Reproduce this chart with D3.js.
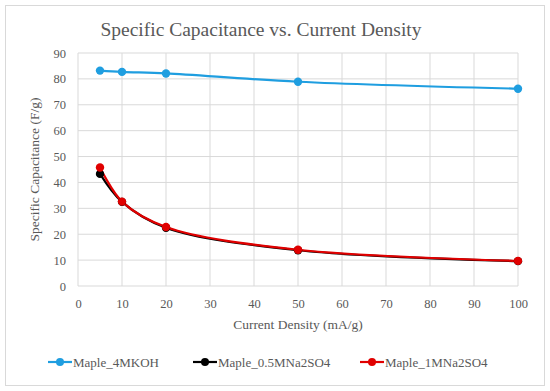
<!DOCTYPE html>
<html>
<head>
<meta charset="utf-8">
<script src="https://cdn.jsdelivr.net/npm/d3@7"></script>
<style>
  body { margin: 0; background: #fff; }
  svg text { font-family: "Liberation Serif", "DejaVu Serif", serif !important; fill: #595959; }
</style>
</head>
<body>
<div id="grafico"></div>
<script>
const densidades = [5, 10, 20, 50, 100];
const koh4M = [83.2, 82.7, 82.1, 78.9, 76.2];
const na2so4_05M = [43.3, 32.5, 22.5, 13.8, 9.6];
const na2so4_1M = [45.8, 32.6, 22.8, 14.0, 9.7];
const xTicks = [0, 10, 20, 30, 40, 50, 60, 70, 80, 90, 100];
const yTicks = [0, 10, 20, 30, 40, 50, 60, 70, 80, 90];

const series = [
  { nome: "Maple_4MKOH", valores: koh4M, cor: "#1f9ee0" },
  { nome: "Maple_0.5MNa2SO4", valores: na2so4_05M, cor: "#000000" },
  { nome: "Maple_1MNa2SO4", valores: na2so4_1M, cor: "#e00000" },
];

const W = 550, H = 391;
const margin = { top: 53, right: 32, bottom: 105, left: 78 };
const width = W - margin.left - margin.right;
const height = H - margin.top - margin.bottom;
const fonte = "'Liberation Serif', 'DejaVu Serif', serif";

const svg = d3.select("#grafico").append("svg")
  .attr("width", W).attr("height", H)
  .attr("font-family", fonte);

svg.append("rect")
  .attr("x", 5.5).attr("y", 5.5).attr("width", 539).attr("height", 380)
  .attr("fill", "#fff").attr("stroke", "#d9d9d9");

svg.append("text")
  .attr("x", 261).attr("y", 36)
  .attr("text-anchor", "middle")
  .style("font-size", "19.5px")
  .text("Specific Capacitance vs. Current Density");

const g = svg.append("g").attr("transform", `translate(${margin.left},${margin.top})`);

const x = d3.scaleLinear().domain([0, 100]).range([0, width]);
const y = d3.scaleLinear().domain([0, 90]).range([height, 0]);

// grade
g.append("g").selectAll("line").data(xTicks).join("line")
  .attr("x1", d => x(d)).attr("x2", d => x(d))
  .attr("y1", 0).attr("y2", height)
  .attr("stroke", "#d9d9d9");
g.append("g").selectAll("line").data(yTicks).join("line")
  .attr("x1", 0).attr("x2", width)
  .attr("y1", d => y(d)).attr("y2", d => y(d))
  .attr("stroke", "#d9d9d9");

const xAxis = g.append("g").attr("transform", `translate(0,${height})`)
  .call(d3.axisBottom(x).tickValues(xTicks).tickSize(0).tickPadding(13))
  .attr("font-family", fonte);
xAxis.select(".domain").remove();
xAxis.selectAll("text").style("font-size", "12.5px").attr("fill", "#595959");

const yAxis = g.append("g")
  .call(d3.axisLeft(y).tickValues(yTicks).tickSize(0).tickPadding(12))
  .attr("font-family", fonte);
yAxis.select(".domain").remove();
yAxis.selectAll("text").style("font-size", "12.5px").attr("fill", "#595959");

svg.append("text")
  .attr("x", margin.left + width / 2).attr("y", 329)
  .attr("text-anchor", "middle").style("font-size", "13.5px")
  .text("Current Density (mA/g)");

svg.append("text")
  .attr("transform", `translate(39,${margin.top + height / 2}) rotate(-90)`)
  .attr("text-anchor", "middle").style("font-size", "13.5px")
  .text("Specific Capacitance (F/g)");

const linha = d3.line()
  .x((d, i) => x(densidades[i]))
  .y(d => y(d))
  .curve(d3.curveCatmullRom.alpha(0.5));

series.forEach(s => {
  g.append("path").datum(s.valores)
    .attr("fill", "none").attr("stroke", s.cor).attr("stroke-width", 2.2)
    .attr("d", linha);
});
series.forEach(s => {
  g.append("g").selectAll("circle").data(s.valores).join("circle")
    .attr("cx", (d, i) => x(densidades[i])).attr("cy", d => y(d))
    .attr("r", 4.2).attr("fill", s.cor);
});

// legenda
const legX = [48, 193, 360];
const legenda = svg.append("g").selectAll("g").data(series).join("g")
  .attr("transform", (d, i) => `translate(${legX[i]},362)`);
legenda.append("line").attr("x1", 0).attr("x2", 24)
  .attr("stroke", d => d.cor).attr("stroke-width", 2.2);
legenda.append("circle").attr("cx", 12).attr("r", 4).attr("fill", d => d.cor);
legenda.append("text").attr("x", 25).attr("y", 4.5)
  .style("font-size", "13px").text(d => d.nome);
</script>
</body>
</html>
